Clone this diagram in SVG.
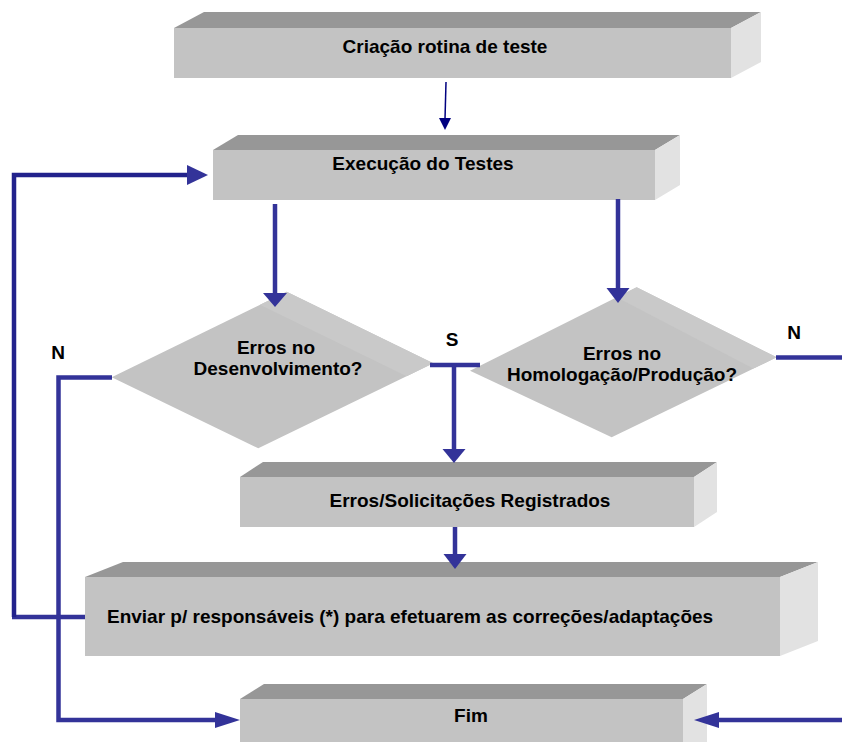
<svg xmlns="http://www.w3.org/2000/svg" width="842" height="742" viewBox="0 0 842 742">
<style>
.front{fill:#c3c3c3}
.top{fill:#979797}
.side{fill:#e2e2e2}
.dia{fill:#c3c3c3}
.diatop{fill:#c9c9c9}
text{font-family:"Liberation Sans",Arial,sans-serif;font-weight:bold;font-size:19px;fill:#000}
.c{text-anchor:middle}
.ln{stroke:#333399;stroke-width:4.5;fill:none;stroke-linejoin:miter}
.ah{fill:#333399}
</style>
<rect width="842" height="742" fill="#fff"/>
<g id="criacao">
<polygon class="top" points="174,28 204,12 761,12 731,28"/>
<polygon class="side" points="731,28 761,12 761,62 731,78"/>
<rect class="front" x="174" y="28" width="557" height="50"/>
<text class="c" x="445" y="53">Criação rotina de teste</text>
</g>
<g id="execucao">
<polygon class="top" points="213,150 238,135 680,135 655,150"/>
<polygon class="side" points="655,150 680,135 680,185 655,200"/>
<rect class="front" x="213" y="150" width="442" height="50"/>
<text class="c" x="423" y="170">Execução do Testes</text>
</g>
<g id="dec-desenv">
<polygon class="dia" points="286.7,291.7 433.3,363.3 258.3,448.3 111.7,377.3"/>
<polygon class="diatop" points="286.7,291.7 433.3,363.3 406.7,376.2 260,304.8"/>
<text class="c" x="276" y="354">Erros no</text>
<text class="c" x="278" y="375">Desenvolvimento?</text>
</g>
<g id="dec-homolog">
<polygon class="dia" points="636.7,287.3 776.7,357.3 611.7,437.3 470,370.7"/>
<polygon class="diatop" points="636.7,287.3 776.7,357.3 753.3,368.6 616.7,297.3"/>
<text class="c" x="622" y="360">Erros no</text>
<text class="c" x="622" y="381">Homologação/Produção?</text>
</g>
<g id="registrados">
<polygon class="top" points="240,477 263,462 717,462 694,477"/>
<polygon class="side" points="694,477 717,462 717,512 694,527"/>
<rect class="front" x="240" y="477" width="454" height="50"/>
<text class="c" x="470" y="507">Erros/Solicitações Registrados</text>
</g>
<g id="enviar">
<polygon class="top" points="85,577 123,562 818,562 780,577"/>
<polygon class="side" points="780,577 818,562 818,641 780,656"/>
<rect class="front" x="85" y="577" width="695" height="79"/>
<text x="107" y="623">Enviar p/ responsáveis (*) para efetuarem as correções/adaptações</text>
</g>
<g id="fim">
<polygon class="top" points="240,699 264,684 707,684 683,699"/>
<polygon class="side" points="683,699 707,684 707,745 683,760"/>
<rect class="front" x="240" y="699" width="443" height="50"/>
<text class="c" x="471" y="722">Fim</text>
</g>
<g id="labels">
<text class="c" x="452" y="346">S</text>
<text class="c" x="794" y="339">N</text>
<text class="c" x="58" y="359">N</text>
</g>
<g id="connectors">
<line x1="446" y1="82" x2="445" y2="119" stroke="#000080" stroke-width="1.5"/>
<polygon fill="#000080" points="439,118 451,118 445,130"/>
<line class="ln" x1="275" y1="204" x2="275" y2="294"/>
<polygon class="ah" points="263,293 287,293 275,307"/>
<line class="ln" x1="618" y1="199" x2="618" y2="289"/>
<polygon class="ah" points="606.5,288 629.5,288 618,303"/>
<line class="ln" x1="430" y1="365" x2="480" y2="365"/>
<line class="ln" x1="454" y1="363" x2="454" y2="450"/>
<polygon class="ah" points="442.5,449 465.5,449 454,463"/>
<line class="ln" x1="455" y1="527" x2="455" y2="555"/>
<polygon class="ah" points="443.5,554 466.5,554 455,569"/>
<polyline class="ln" points="112,377.5 58.5,377.5 58.5,720 216,720"/>
<polygon class="ah" points="215,712 215,728 240,720"/>
<line class="ln" x1="85" y1="617" x2="12" y2="617" stroke-width="6"/>
<polyline class="ln" points="14,617 14,175 188,175" style="stroke:#22228c"/>
<polygon class="ah" points="187,165 187,185 208,175"/>
<line class="ln" x1="776" y1="357.5" x2="842" y2="357.5"/>
<line class="ln" x1="842" y1="720" x2="718" y2="720"/>
<polygon class="ah" points="719,712 719,728 694,720"/>
</g>
</svg>
